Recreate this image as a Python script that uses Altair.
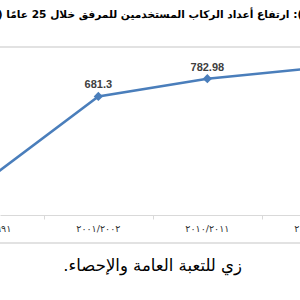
import altair as alt
import pandas as pd

# ---- data ----
categories = ["١٩٩٠/١٩٩١", "٢٠٠١/٢٠٠٢", "٢٠١٠/٢٠١١", "٢٠١٥/٢٠١٦"]
passengers = [210, 681.3, 782.98, 845]
value_labels = ["210", "681.3", "782.98", "845"]
title_text = "\u200f): ارتفاع أعداد الركاب المستخدمين للمرفق خلال 25 عامًا (\u200f"
source_text = "\u200fزي للتعبة العامة والإحصاء.\u200f"

df = pd.DataFrame({
    "idx": list(range(len(categories))),
    "cat": categories,
    "value": passengers,
    "label": value_labels,
})

BLUE = "#4a7ebb"
GRID = "#d9d9d9"

x = alt.X(
    "idx:Q",
    scale=alt.Scale(domain=[0.098, 2.85], nice=False, zero=False),
    axis=alt.Axis(values=[0.5, 1.5, 2.5], labels=False, title=None, grid=False,
                  domainColor=GRID, tickColor=GRID, tickSize=4, domainWidth=1.2,
                  tickWidth=1),
)
y = alt.Y("value:Q", scale=alt.Scale(domain=[0, 1235], nice=False, zero=True), axis=None)

base = alt.Chart(df)
line = base.mark_line(color=BLUE, strokeWidth=2.5, clip=True).encode(x=x, y=y)
pts = base.mark_point(shape="diamond", filled=True, size=85, color=BLUE, opacity=1,
                      clip=True).encode(x=x, y=y)
lbl = base.mark_text(fontSize=11, fontWeight="bold", font="Liberation Sans",
                     color="#404040", dy=-8, baseline="alphabetic").encode(
    x=x, y=y, text="label:N")
cats = base.mark_text(fontSize=9.5, font="DejaVu Sans", color="#333333",
                      baseline="middle").encode(x=x, y=alt.value(229), text="cat:N")

one = pd.DataFrame({"t": [title_text], "s": [source_text]})
title = alt.Chart(one).mark_text(fontSize=10.6, fontWeight="bold", font="DejaVu Sans",
                                 color="#000000", align="center", baseline="middle").encode(
    x=alt.value(150), y=alt.value(15), text="t:N")
footer = alt.Chart(one).mark_text(fontSize=16.5, font="DejaVu Sans", color="#000000",
                                  align="right", baseline="middle").encode(
    x=alt.value(242), y=alt.value(266), text="s:N")
top_rule = alt.Chart(one).mark_rule(color=GRID, strokeWidth=1.5).encode(
    x=alt.value(0), x2=alt.value(300), y=alt.value(47))
bottom_rule = alt.Chart(one).mark_rule(color=GRID, strokeWidth=1.5).encode(
    x=alt.value(0), x2=alt.value(300), y=alt.value(243))

chart = alt.layer(top_rule, bottom_rule, line, pts, lbl, cats, title, footer).properties(
    width=300, height=215,
    autosize=alt.AutoSizeParams(type="none"),
    padding={"left": 0, "right": 0, "top": 0, "bottom": 85},
).configure_view(stroke=None)

chart.save("out.html", embed_options={"renderer": "svg", "actions": False})
